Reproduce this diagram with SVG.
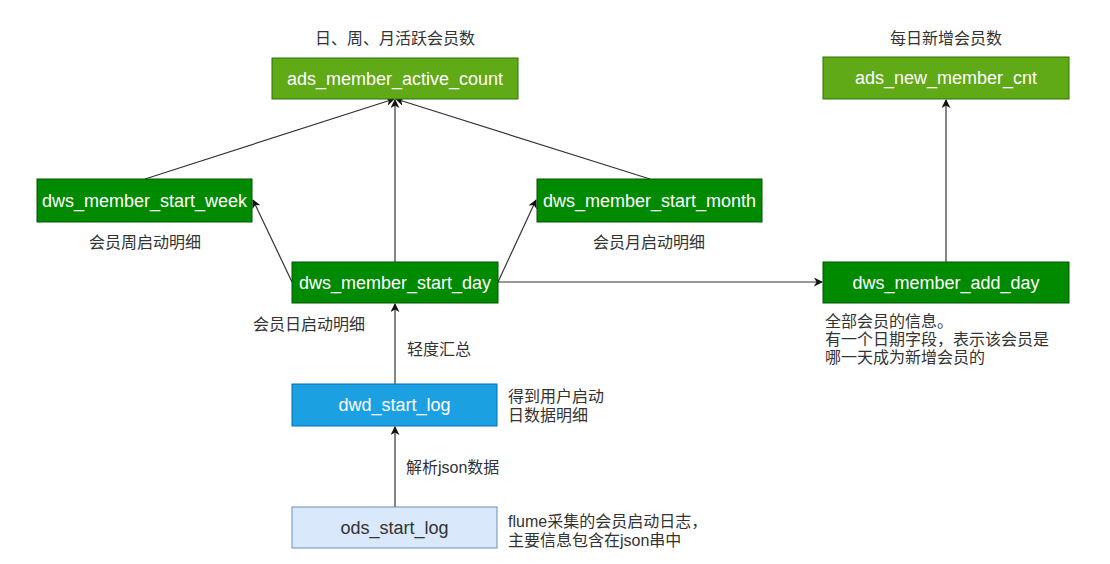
<svg xmlns="http://www.w3.org/2000/svg" width="1110" height="564" viewBox="0 0 1110 564">
<defs>
<marker id="arr" viewBox="0 0 10 10" refX="9" refY="5" markerWidth="9" markerHeight="9" markerUnits="userSpaceOnUse" orient="auto">
<path d="M0,0 L10,5 L0,10 L3,5 Z" fill="#111"/>
</marker>
<style>
.lg{fill:#60a917;stroke:#2d7600;stroke-width:1}
.dg{fill:#008a00;stroke:#005700;stroke-width:1}
.bl{fill:#1ba1e2;stroke:#006eaf;stroke-width:1}
.lb{fill:#dae8fc;stroke:#6c8ebf;stroke-width:1}
.nt{font-family:"Liberation Sans",Arial,sans-serif;font-size:18px;text-anchor:middle;dominant-baseline:central;fill:#ffffff}
.nd{fill:#333333}
.lab{font-family:"Liberation Sans","Noto Sans CJK SC",sans-serif;font-size:16px;fill:#333333;dominant-baseline:central}
.c{text-anchor:middle}
.e{fill:none;stroke:#333;stroke-width:1.2;marker-end:url(#arr)}
</style>
</defs>
<rect width="1110" height="564" fill="#ffffff"/>
<g id="connectors">
<path class="e" d="M395,507 L395,427"/>
<path class="e" d="M395,384 L395,304"/>
<path class="e" d="M395,262 L395,100"/>
<path class="e" d="M292,282 L253,200"/>
<path class="e" d="M498,282 L536,200"/>
<path class="e" d="M145,179 L394,99"/>
<path class="e" d="M650,179 L396,99"/>
<path class="e" d="M498,282 L822,282"/>
<path class="e" d="M946,262 L946,100"/>
</g>
<g id="ads_member_active_count">
<rect class="lg" x="272" y="58" width="246" height="41"/>
<text class="nt" x="395" y="78.5">ads_member_active_count</text>
</g>
<g id="ads_new_member_cnt">
<rect class="lg" x="823" y="57" width="246" height="42"/>
<text class="nt" x="946" y="78">ads_new_member_cnt</text>
</g>
<g id="dws_member_start_week">
<rect class="dg" x="37" y="179" width="215" height="43"/>
<text class="nt" x="144.5" y="200.5">dws_member_start_week</text>
</g>
<g id="dws_member_start_month">
<rect class="dg" x="537" y="179" width="225" height="43"/>
<text class="nt" x="649.5" y="200.5">dws_member_start_month</text>
</g>
<g id="dws_member_start_day">
<rect class="dg" x="292" y="262" width="206" height="41"/>
<text class="nt" x="395" y="282.5">dws_member_start_day</text>
</g>
<g id="dws_member_add_day">
<rect class="dg" x="823" y="262" width="246" height="41"/>
<text class="nt" x="946" y="282.5">dws_member_add_day</text>
</g>
<g id="dwd_start_log">
<rect class="bl" x="292" y="384" width="205" height="42"/>
<text class="nt" x="394.5" y="405">dwd_start_log</text>
</g>
<g id="ods_start_log">
<rect class="lb" x="292" y="507" width="205" height="41"/>
<text class="nt nd" x="394.5" y="527.5">ods_start_log</text>
</g>
<g id="labels">
<text class="lab c" x="395" y="38">日、周、月活跃会员数</text>
<text class="lab c" x="946" y="38">每日新增会员数</text>
<text class="lab c" x="145" y="242">会员周启动明细</text>
<text class="lab c" x="649" y="242">会员月启动明细</text>
<text class="lab" x="253" y="324">会员日启动明细</text>
<text class="lab" x="407" y="349">轻度汇总</text>
<text class="lab" x="508" y="396">得到用户启动</text>
<text class="lab" x="508" y="415">日数据明细</text>
<text class="lab" x="406" y="467">解析json数据</text>
<text class="lab" x="508" y="521">flume采集的会员启动日志，</text>
<text class="lab" x="508" y="540">主要信息包含在json串中</text>
<text class="lab" x="825" y="321">全部会员的信息。</text>
<text class="lab" x="825" y="339">有一个日期字段，表示该会员是</text>
<text class="lab" x="825" y="357">哪一天成为新增会员的</text>
</g>
</svg>
